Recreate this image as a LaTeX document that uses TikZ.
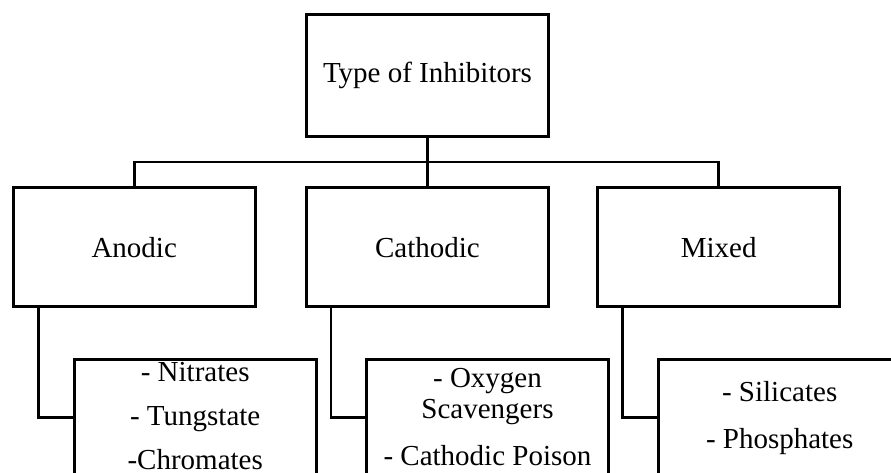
\documentclass[tikz,border=0pt]{standalone}
\usepackage{fontspec}
\setmainfont{Liberation Serif}
\usepackage{tikz}
\usetikzlibrary{positioning}

\tikzset{
  box/.style={draw,line width=3pt,minimum width=242pt,minimum height=119pt,
    inner sep=0pt,outer sep=0pt,align=center,
    font=\fontsize{29}{31}\selectfont},
  link/.style={line width=2.7pt,line cap=rect}
}

\begin{document}
\begin{tikzpicture}
\useasboundingbox (-427.5pt,75.8pt) rectangle (463.5pt,-397.2pt);
\clip (-427.5pt,75.8pt) rectangle (463.5pt,-397.2pt);
\node[box,minimum height=121.7pt] (types) at (0,0)
{Type of Inhibitors};
\node[box] (cathodic) [below =51pt of types]
{Cathodic};
\node[box] (anodic) [left =51.3pt of cathodic]
{Anodic};
\node[box] (mixed) [right =49.2pt of cathodic]
{Mixed};
\node[box,minimum height=117pt] (anodiclist) [below =52.6pt of anodic,xshift=61pt]
{- Nitrates\\[13pt]- Tungstate\\[13pt]-Chromates\rule[-4pt]{0pt}{0pt}};
\node[box,minimum height=117pt] (cathodiclist) [below =52.6pt of cathodic,xshift=60pt]
{- Oxygen\\Scavengers\\[15.7pt]- Cathodic Poison\rule[-2pt]{0pt}{0pt}};
\node[box,minimum height=117pt] (mixedlist) [below =52.6pt of mixed,xshift=61pt]
{- Silicates\\[15.6pt]- Phosphates};
\draw[link] (types) -- (cathodic);
\draw[link] (anodic.north) -- ++(0,25.5pt) -| (mixed.north);
\draw[link] ([xshift=25pt]anodic.south west) |- (anodiclist.west);
\draw[link] ([xshift=24.5pt]cathodic.south west) |- (cathodiclist.west);
\draw[link] ([xshift=25pt]mixed.south west) |- (mixedlist.west);
\end{tikzpicture}
\end{document}
